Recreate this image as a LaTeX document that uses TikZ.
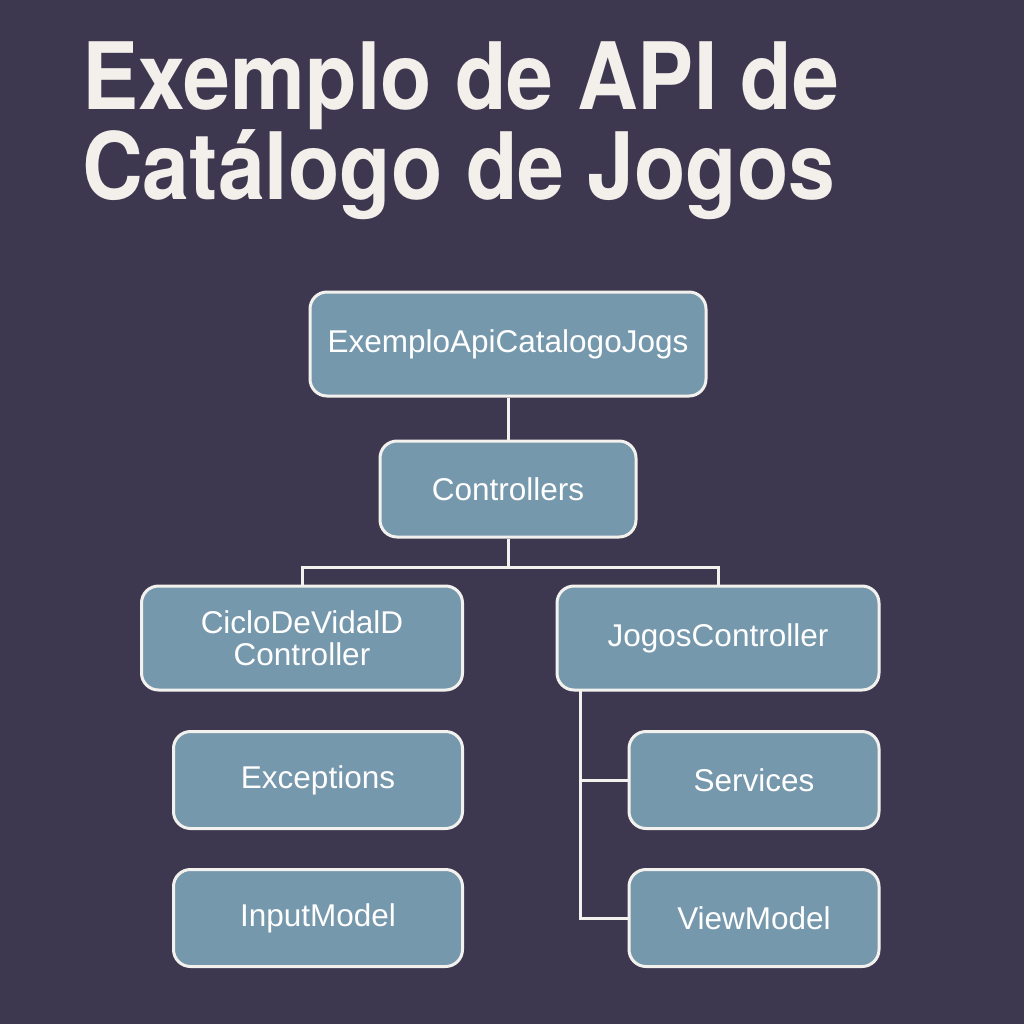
\documentclass[tikz,border=0pt]{standalone}
\usepackage{fontspec}
\setmainfont{Liberation Sans}
\newfontfamily\titlefont{TeX Gyre Heros}
\usetikzlibrary{positioning}
\definecolor{bgc}{HTML}{3D3850}
\definecolor{boxc}{HTML}{7698AC}
\definecolor{edgec}{HTML}{F3F1EE}
\definecolor{titlec}{HTML}{F3EFEB}
\begin{document}
\begin{tikzpicture}[x=1pt,y=-1pt,
  box/.style={draw=edgec, line width=3pt, fill=boxc, rounded corners=17pt,
    text=white, font=\fontsize{31.5}{33}\selectfont, align=center, inner sep=0pt},
  link/.style={draw=edgec, line width=3pt},
  titletext/.style={anchor=base west, text=titlec, inner sep=0pt,
    font=\titlefont\bfseries\fontsize{93}{100}\selectfont, xscale=0.905}]
\fill[bgc] (0,0) rectangle (1024,1024);
\useasboundingbox (0,0) rectangle (1024,1024);

\node[titletext] (t1) at (82,110) {Exemplo de API de};
\node[titletext] (t2) at (82,200) {Catálogo de Jogos};

\node[box, minimum width=396pt, minimum height=104pt] (root) at (508,344) {ExemploApiCatalogoJogs};
\node[box, minimum width=256pt, minimum height=96pt] (ctrl) at (508,489) {Controllers};
\node[box, minimum width=321pt, minimum height=104pt, font=\fontsize{31.5}{32}\selectfont] (ciclo) at (302,638) {CicloDeVidalD\\Controller};
\node[box, minimum width=322pt, minimum height=104pt] (jogos) at (718,638) {JogosController};
\node[box, minimum width=289pt, minimum height=97pt] (exc) at (318,780) {Exceptions};
\node[box, minimum width=289pt, minimum height=97pt] (inp) at (318,918) {InputModel};
\node[box, minimum width=250pt, minimum height=97pt] (serv) at (754,780) {Services};
\node[box, minimum width=250pt, minimum height=97pt] (view) at (754,918) {ViewModel};

\coordinate (split) at (508,567);
\coordinate (jtrunk) at (580,690);

\draw[link] (root) -- (ctrl);
\draw[link] (ctrl.south) -- (split);
\draw[link] (split) -| (ciclo.north);
\draw[link] (split) -| (jogos.north);
\draw[link] (jtrunk) |- (serv.west);
\draw[link] (jtrunk) |- (view.west);
\end{tikzpicture}
\end{document}
